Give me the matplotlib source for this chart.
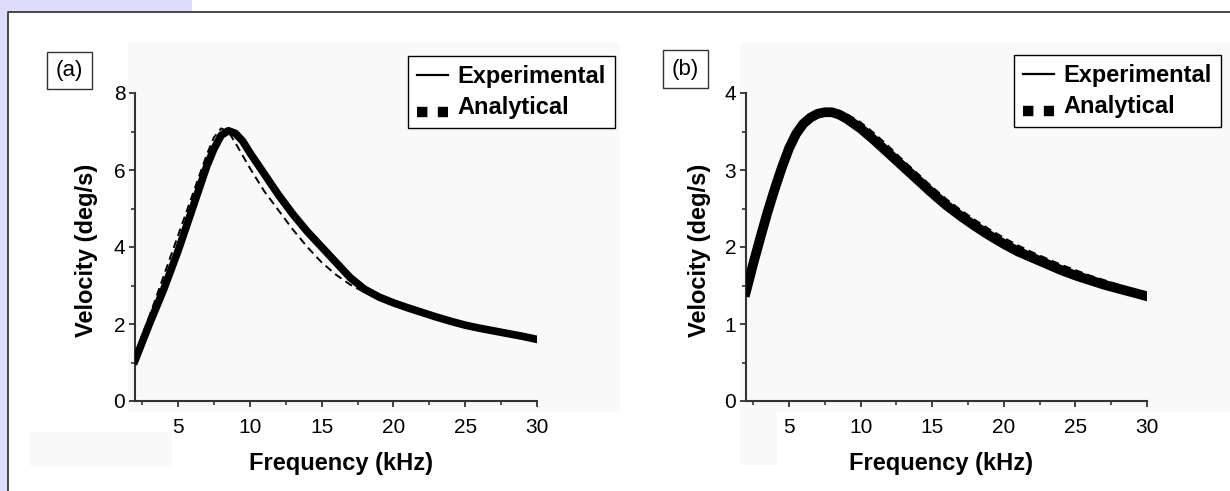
import numpy as np
import matplotlib
matplotlib.use("Agg")
import matplotlib.pyplot as plt
from matplotlib.patches import Rectangle
from matplotlib.lines import Line2D
from matplotlib.legend_handler import HandlerLine2D
from matplotlib.ticker import MultipleLocator

plt.rcParams['font.family'] = ['Liberation Sans', 'DejaVu Sans']

# ---------------- data ----------------
freq_a_exp = [2, 3, 4, 5, 6, 7, 7.5, 8, 8.5, 9, 9.5, 10, 11, 12, 13, 14, 15, 16,
              17, 18, 19, 20, 21, 22, 23, 24, 25, 26, 27, 28, 29, 30]
vel_a_exp = [1.05, 2.0, 2.9, 3.9, 5.0, 6.1, 6.55, 6.9, 7.02, 6.95, 6.75, 6.45, 5.9,
             5.35, 4.85, 4.4, 4.0, 3.6, 3.2, 2.9, 2.7, 2.55, 2.42, 2.3, 2.18, 2.07,
             1.97, 1.89, 1.82, 1.75, 1.68, 1.6]

freq_a_ana = [2, 3, 4, 5, 6, 7, 7.5, 8, 8.5, 9, 10, 11, 12, 13, 14, 15, 16, 17, 18,
              19, 20, 22, 24, 26, 28, 30]
vel_a_ana = [1.2, 2.2, 3.25, 4.3, 5.35, 6.4, 6.85, 7.08, 7.0, 6.7, 6.05, 5.45, 4.95,
             4.45, 4.0, 3.6, 3.28, 3.02, 2.82, 2.66, 2.52, 2.28, 2.06, 1.88, 1.74, 1.6]

freq_b = [2, 2.5, 3, 3.5, 4, 4.5, 5, 5.5, 6, 6.5, 7, 7.5, 8, 8.5, 9, 10, 11, 12, 13,
          14, 15, 16, 17, 18, 19, 20, 21, 22, 23, 24, 25, 26, 27, 28, 29, 30]
vel_b_exp = [1.42, 1.78, 2.12, 2.45, 2.75, 3.03, 3.28, 3.47, 3.6, 3.68, 3.73, 3.75,
             3.75, 3.72, 3.67, 3.54, 3.38, 3.21, 3.04, 2.87, 2.7, 2.54, 2.4, 2.27,
             2.15, 2.04, 1.94, 1.86, 1.78, 1.7, 1.63, 1.57, 1.51, 1.46, 1.41, 1.36]
vel_b_ana = [1.4, 1.72, 2.05, 2.38, 2.68, 2.97, 3.22, 3.43, 3.57, 3.66, 3.72, 3.76,
             3.78, 3.77, 3.73, 3.62, 3.47, 3.3, 3.12, 2.95, 2.78, 2.62, 2.48, 2.35,
             2.23, 2.12, 2.02, 1.93, 1.85, 1.77, 1.7, 1.63, 1.57, 1.51, 1.45, 1.4]

x_ticks = [5, 10, 15, 20, 25, 30]
panel_labels = ['(a)', '(b)']
legend_labels = ['Experimental', 'Analytical']
xlabel = 'Frequency (kHz)'
ylabel = 'Velocity (deg/s)'

# ---------------- figure ----------------
W, H = 1230, 491
fig = plt.figure(figsize=(W / 100, H / 100), dpi=100)


def fx(x):
    return x / W


def fy(y):
    return 1 - y / H


def frect(x0, y0, x1, y1, **kw):
    r = Rectangle((fx(x0), fy(y1)), fx(x1) - fx(x0), fy(y0) - fy(y1),
                  transform=fig.transFigure, **kw)
    fig.add_artist(r)
    return r


# lavender margins
lav = '#dfdcfb'
frect(0, 0, 192, 11.5, facecolor=lav, edgecolor='none', zorder=0)
frect(0, 0, 7.5, H, facecolor=lav, edgecolor='none', zorder=0)
# outer frame
fig.add_artist(Line2D([fx(8), fx(8), fx(W + 5)], [fy(H + 5), fy(11.5), fy(11.5)],
                      transform=fig.transFigure, color='#3a3a3a', lw=1.3, zorder=1))
# scanned light-grey backgrounds
g = '#f9f9f9'
frect(128, 42, 620, 412, facecolor=g, edgecolor='none', zorder=0)
frect(30, 432, 172, 466, facecolor=g, edgecolor='none', zorder=0)
frect(740, 43, W, 412, facecolor=g, edgecolor='none', zorder=0)
frect(740, 410, 777, 465, facecolor=g, edgecolor='none', zorder=0)


class LowHandler(HandlerLine2D):
    def create_artists(self, legend, orig_handle, xdescent, ydescent, width,
                       height, fontsize, trans):
        arts = super().create_artists(legend, orig_handle, xdescent, ydescent,
                                      width, height, fontsize, trans)
        for a in arts:
            a.set_ydata(np.asarray(a.get_ydata()) - 5.0)
        return arts


def make_panel(rect_px, xe, ye, xa, ya, ymax, yminor, exp_lw, lab, lab_xy, leg_xy,
               ylab_x, xlab_x):
    x0, y0, x1, y1 = rect_px
    ax = fig.add_axes([fx(x0), fy(y1), fx(x1) - fx(x0), fy(y0) - fy(y1)])
    ax.set_facecolor('none')
    ax.plot(xa, ya, color='black', lw=1.4, ls=(0, (4, 2.5)), zorder=2)
    ax.plot(xe, ye, color='black', lw=exp_lw, solid_joinstyle='round', zorder=3)
    ax.set_xlim(2, 30)
    ax.set_ylim(0, ymax)
    ax.set_xticks(x_ticks)
    ax.xaxis.set_minor_locator(MultipleLocator(2.5))
    ax.yaxis.set_major_locator(MultipleLocator(2 if ymax > 4 else 1))
    ax.yaxis.set_minor_locator(MultipleLocator(yminor))
    for s in ['top', 'right']:
        ax.spines[s].set_visible(False)
    for s in ['left', 'bottom']:
        ax.spines[s].set_color('#333333')
        ax.spines[s].set_linewidth(1.5)
    ax.tick_params(axis='both', which='major', length=4, width=1.3, color='#333333',
                   labelsize=15, labelcolor='black')
    ax.tick_params(axis='both', which='minor', length=3, width=1.2, color='#333333')
    ax.tick_params(axis='x', which='major', pad=8)
    ax.tick_params(axis='y', which='major', pad=3)
    ax.set_xlabel(xlabel, fontsize=17, fontweight='bold')
    ax.set_ylabel(ylabel, fontsize=17, fontweight='bold')
    ax.xaxis.set_label_coords(xlab_x, -0.165)
    ax.yaxis.set_label_coords(ylab_x, 0.49)
    # panel label
    fig.text(fx(lab_xy[0]), fy(lab_xy[1]), lab, fontsize=16, ha='center',
             va='center',
             bbox=dict(boxstyle='square,pad=0.38', facecolor='white',
                       edgecolor='#333333', lw=1.0))
    # legend
    h1 = Line2D([], [], color='black', lw=1.6)
    h2 = Line2D([], [], color='black', lw=7.5, ls=(0, (1, 1)),
                dash_capstyle='butt')
    leg = ax.legend([h1, h2], legend_labels, loc='upper left',
                    bbox_to_anchor=(fx(leg_xy[0]), fy(leg_xy[1])),
                    bbox_transform=fig.transFigure, borderaxespad=0,
                    prop={'size': 17, 'weight': 'bold'}, frameon=True,
                    fancybox=False, framealpha=1, edgecolor='black',
                    handlelength=1.3, handletextpad=0.4, labelspacing=0.3,
                    borderpad=0.4, handler_map={h2: LowHandler()})
    leg.get_frame().set_linewidth(1.0)
    return ax


make_panel((135, 93, 537, 401), freq_a_exp, vel_a_exp, freq_a_ana, vel_a_ana,
           8, 1, 5.5, panel_labels[0], (69.5, 70.5), (408, 56), -0.093, 0.512)
make_panel((746, 93, 1147, 401), freq_b, vel_b_exp, freq_b, vel_b_ana,
           4, 0.5, 7, panel_labels[1], (685.5, 69), (1014, 55), -0.088, 0.4875)

fig.savefig('out.png', dpi=100)
